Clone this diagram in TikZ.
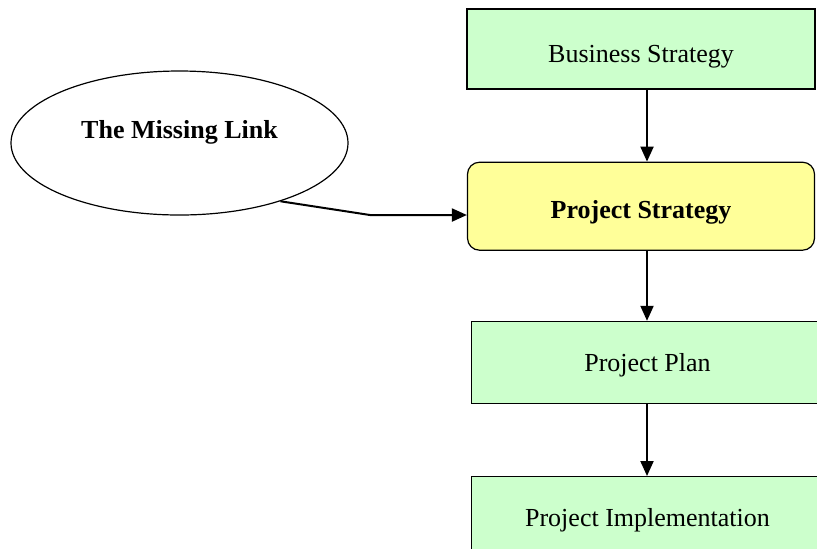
\documentclass[tikz,border=0pt]{standalone}
\usepackage{fontspec}
\setmainfont{Liberation Serif}
\usetikzlibrary{arrows.meta, positioning, shapes.geometric}

\definecolor{stepgreen}{RGB}{204,255,204}
\definecolor{stepyellow}{RGB}{255,255,153}

\begin{document}
\begin{tikzpicture}[
    x=0.5pt, y=-0.5pt,
    box/.style={rectangle, draw=black, line width=0.6pt, inner sep=0pt, align=center, font=\fontsize{13}{15}\selectfont},
    box green/.style={box, fill=stepgreen, minimum height=41pt, minimum width=176pt, text height=12pt, text depth=2.8pt},
    box yellow/.style={box, fill=stepyellow, rounded corners=6pt, minimum height=44pt, minimum width=173.5pt, text height=15pt, text depth=2.8pt, font=\fontsize{13}{15}\selectfont\bfseries},
    link/.style={ellipse, draw=black, line width=0.6pt, inner sep=0pt, minimum width=168.5pt, minimum height=72pt, text depth=14pt, font=\fontsize{13}{15}\selectfont\bfseries},
    flow/.style={-{Triangle[length=7.5pt, width=6.5pt]}, line width=1pt}
  ]
    \clip (0,0) rectangle (817,548);

    \node[box green, minimum width=174pt, minimum height=40pt, text height=16pt] (biz) at (641,49) {Business Strategy};
    \node[box yellow, below=36pt of biz] (strat) {Project Strategy};
    \node[box green, below=35pt of strat, xshift=3.25pt] (plan) {Project Plan};
    \node[box green, below=36pt of plan] (impl) {Project Implementation};

    \node[link] (missing) at (179.5,143) {The Missing Link};
    \coordinate (bend) at (370,215);
    \coordinate (col) at (647,0);

    \draw[flow] (biz.south -| col) -- (strat.north -| col);
    \draw[flow] (strat.south -| col) -- (plan.north -| col);
    \draw[flow] (plan.south -| col) -- (impl.north -| col);
    \draw[flow] (missing.-30) -- (bend) -- (bend -| strat.west);
  \end{tikzpicture}
\end{document}
